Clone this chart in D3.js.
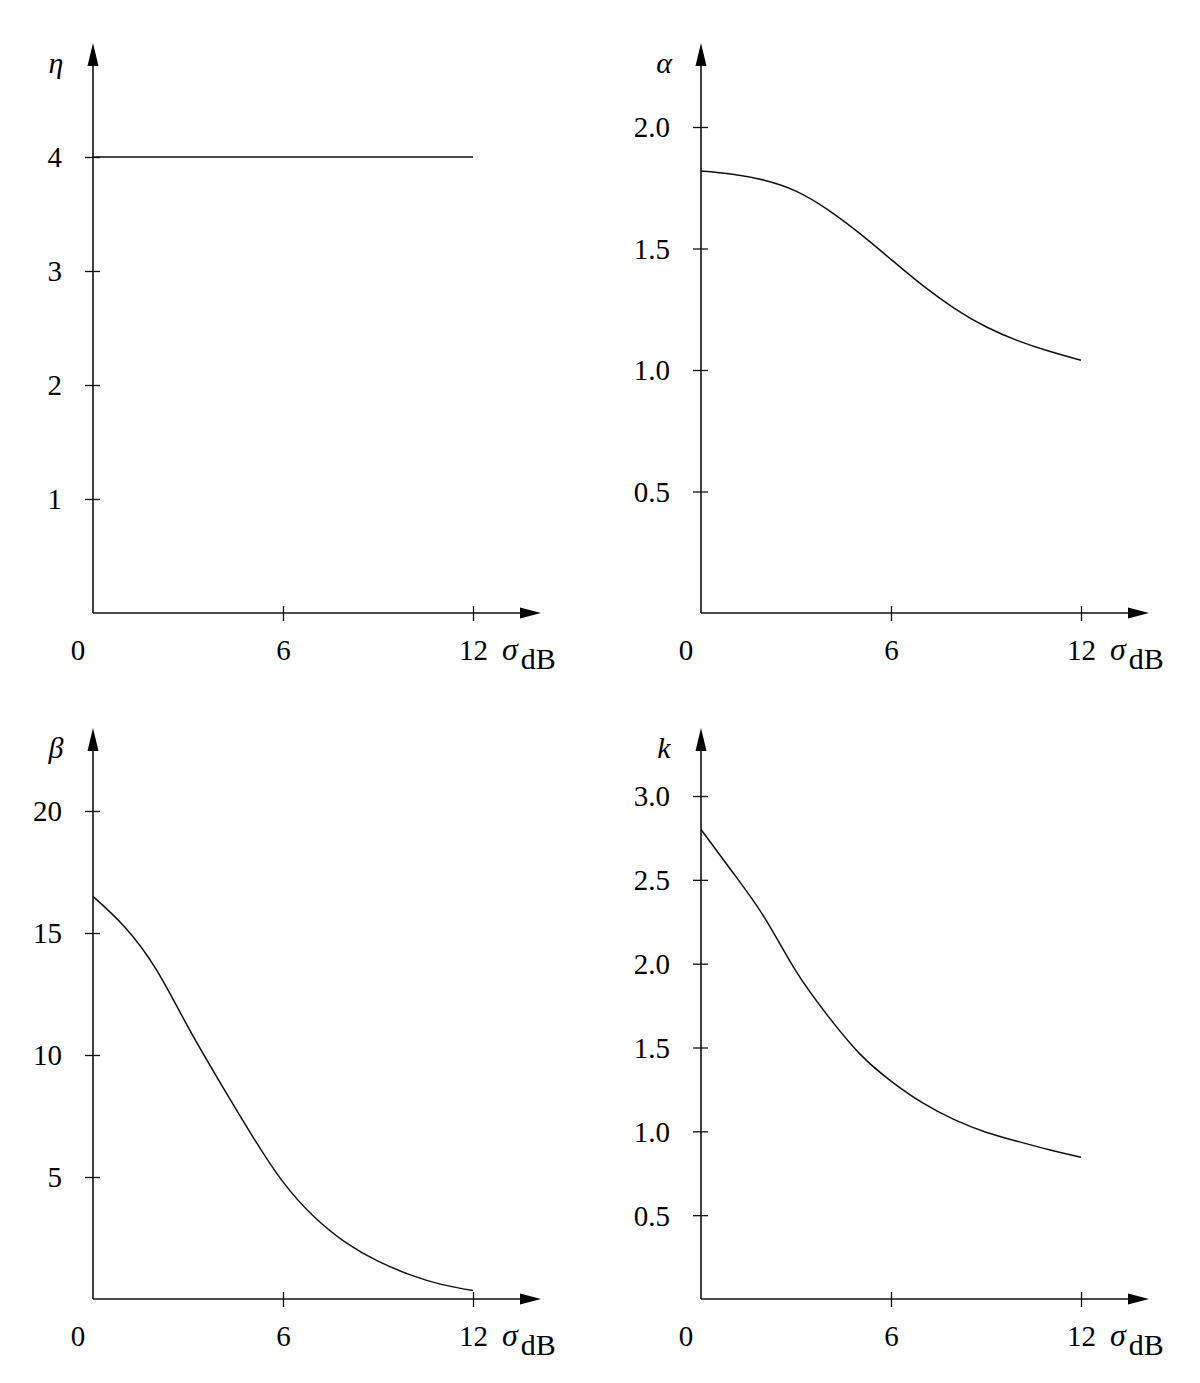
<!DOCTYPE html>
<html>
<head>
<meta charset="utf-8">
<script src="https://cdn.jsdelivr.net/npm/d3@7"></script>
<style>
  html, body { margin: 0; padding: 0; background: #fff; }
  svg { display: block; }
  text { font-family: "Liberation Serif", "DejaVu Serif", serif; fill: #000; }
</style>
</head>
<body>
<svg id="chart" width="1200" height="1383"></svg>
<script>
// ---- Data ----
const sigma = [0, 1, 2, 3, 4, 5, 6, 7, 8, 9, 10, 11, 12];
const etaValues   = [4, 4, 4, 4, 4, 4, 4, 4, 4, 4, 4, 4, 4];
const alphaValues = [1.819, 1.806, 1.781, 1.736, 1.660, 1.563, 1.455, 1.348, 1.254, 1.178, 1.121, 1.077, 1.040];
const betaValues  = [16.5, 15.25, 13.5, 11.15, 8.9, 6.75, 4.8, 3.35, 2.3, 1.55, 1.0, 0.6, 0.35];
const kValues     = [2.80, 2.545, 2.276, 1.955, 1.69, 1.465, 1.30, 1.17, 1.07, 0.995, 0.94, 0.89, 0.845];

const xTicks = [6, 12];
const xTickLabels = ["6", "12"];
const etaTicks = [1, 2, 3, 4];
const etaTickLabels = ["1", "2", "3", "4"];
const alphaTicks = [0.5, 1.0, 1.5, 2.0];
const alphaTickLabels = ["0.5", "1.0", "1.5", "2.0"];
const betaTicks = [5, 10, 15, 20];
const betaTickLabels = ["5", "10", "15", "20"];
const kTicks = [0.5, 1.0, 1.5, 2.0, 2.5, 3.0];
const kTickLabels = ["0.5", "1.0", "1.5", "2.0", "2.5", "3.0"];

const yLabels = ["η", "α", "β", "k"];

// ---- Layout ----
const panels = [
  { name: yLabels[0], values: etaValues, ticks: etaTicks, labels: etaTickLabels,
    x0: 93, y0: 613, xEnd: 473, yDomain: [0, 4], yTopPx: 157, yTip: 43 },
  { name: yLabels[1], values: alphaValues, ticks: alphaTicks, labels: alphaTickLabels,
    x0: 701, y0: 613, xEnd: 1081, yDomain: [0, 2], yTopPx: 127, yTip: 43 },
  { name: yLabels[2], values: betaValues, ticks: betaTicks, labels: betaTickLabels,
    x0: 93, y0: 1299, xEnd: 473, yDomain: [0, 20], yTopPx: 811, yTip: 728 },
  { name: yLabels[3], values: kValues, ticks: kTicks, labels: kTickLabels,
    x0: 701, y0: 1299, xEnd: 1081, yDomain: [0, 3], yTopPx: 796, yTip: 728 }
];

const svg = d3.select("#chart");
const stroke = "#111";
const tickFont = "29px";

panels.forEach(p => {
  const x = d3.scaleLinear().domain([0, 12]).range([p.x0, p.xEnd]);
  const y = d3.scaleLinear().domain(p.yDomain).range([p.y0, p.yTopPx]);
  const g = svg.append("g");

  const xTip = p.x0 + 448;
  const arrowLen = 21, arrowHalf = 5.5;

  // x axis line + arrow
  g.append("line").attr("x1", p.x0).attr("y1", p.y0).attr("x2", xTip - arrowLen + 2).attr("y2", p.y0)
    .attr("stroke", stroke).attr("stroke-width", 1.6);
  g.append("path")
    .attr("d", `M${xTip},${p.y0} L${xTip - arrowLen},${p.y0 - arrowHalf} L${xTip - arrowLen},${p.y0 + arrowHalf} Z`)
    .attr("fill", "#000");

  // y axis line + arrow
  g.append("line").attr("x1", p.x0).attr("y1", p.y0).attr("x2", p.x0).attr("y2", p.yTip + arrowLen - 2)
    .attr("stroke", stroke).attr("stroke-width", 1.6);
  g.append("path")
    .attr("d", `M${p.x0},${p.yTip} L${p.x0 - arrowHalf},${p.yTip + arrowLen + 2} L${p.x0 + arrowHalf},${p.yTip + arrowLen + 2} Z`)
    .attr("fill", "#000");

  // x ticks via d3 axis
  const xAxis = d3.axisBottom(x).tickValues(xTicks).tickFormat((d, i) => xTickLabels[i]).tickSize(0).tickPadding(0);
  const xa = g.append("g").attr("transform", `translate(0,${p.y0})`).call(xAxis);
  xa.select(".domain").remove();
  xa.selectAll(".tick").append("line").attr("y1", -7).attr("y2", 8)
    .attr("stroke", stroke).attr("stroke-width", 1.3);
  xa.selectAll(".tick text")
    .attr("y", 47).attr("dy", 0)
    .style("font-family", '"Liberation Serif", serif')
    .style("font-size", tickFont).attr("fill", "#000");

  // "0" at origin
  g.append("text").attr("x", p.x0 - 15).attr("y", p.y0 + 47)
    .attr("text-anchor", "middle").style("font-size", tickFont).text("0");

  // sigma_dB label
  const lab = g.append("text").attr("x", p.x0 + 409).attr("y", p.y0 + 47).style("font-size", "32px");
  lab.append("tspan").style("font-style", "italic").text("σ");
  lab.append("tspan").attr("dy", 9).attr("dx", 3).style("font-size", "30px").text("dB");

  // y ticks
  const yAxis = d3.axisLeft(y).tickValues(p.ticks).tickFormat((d, i) => p.labels[i]).tickSize(0).tickPadding(0);
  const ya = g.append("g").attr("transform", `translate(${p.x0},0)`).call(yAxis);
  ya.select(".domain").remove();
  ya.selectAll(".tick").append("line").attr("x1", -8).attr("x2", 7)
    .attr("stroke", stroke).attr("stroke-width", 1.3);
  ya.selectAll(".tick text")
    .attr("x", -31).attr("dy", "0.34em")
    .style("font-family", '"Liberation Serif", serif')
    .style("font-size", tickFont).attr("fill", "#000");

  // y label
  g.append("text").attr("x", p.x0 - 37).attr("y", p.yTip + 30)
    .attr("text-anchor", "middle").style("font-size", "30px").style("font-style", "italic").text(p.name);

  // curve
  const line = d3.line().x((d, i) => x(sigma[i])).y(d => y(d)).curve(d3.curveNatural);
  g.append("path").datum(p.values).attr("d", line)
    .attr("fill", "none").attr("stroke", stroke).attr("stroke-width", 1.5);
});
</script>
</body>
</html>
